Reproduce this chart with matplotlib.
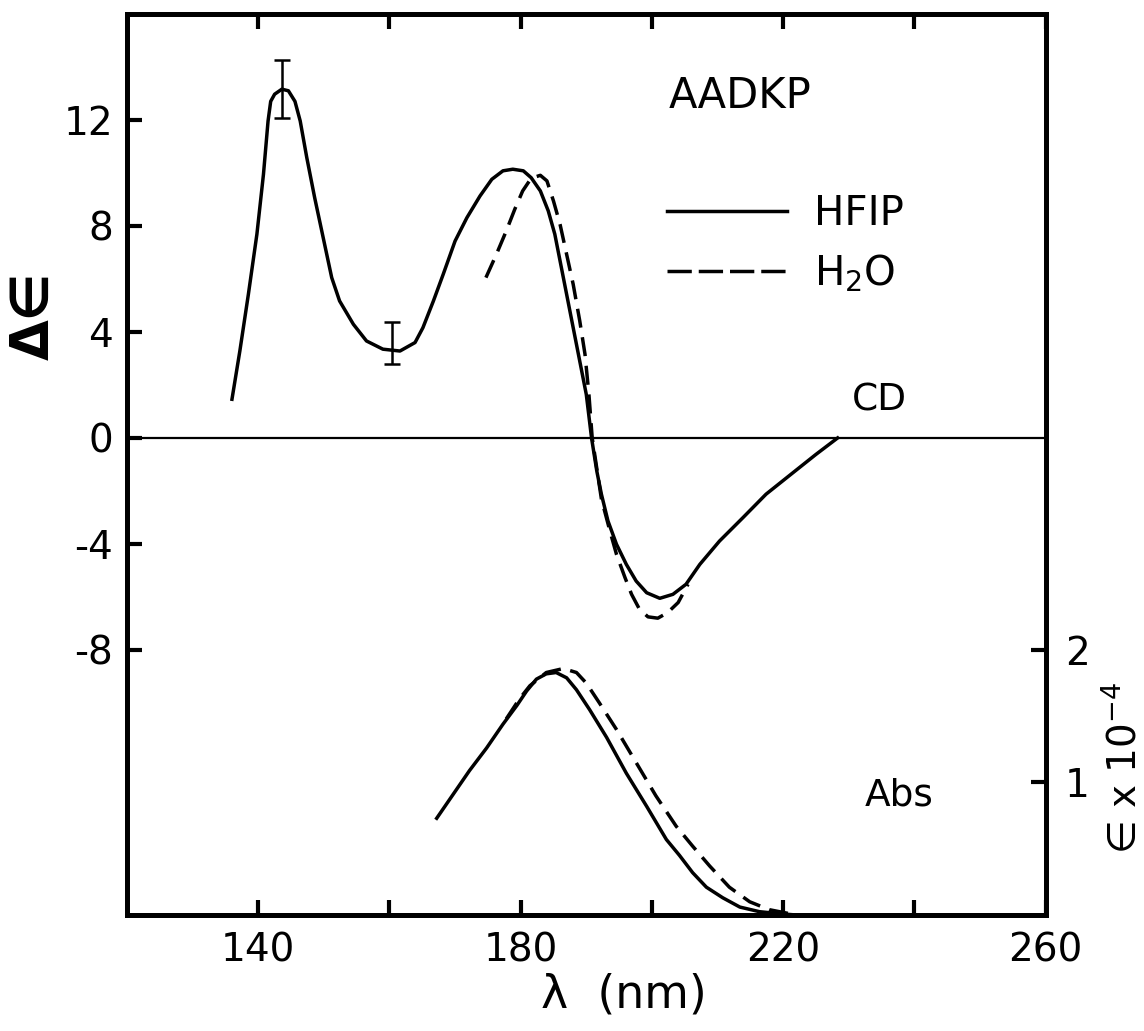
import numpy as np
import matplotlib.pyplot as plt
from matplotlib.lines import Line2D
from matplotlib.ticker import FixedLocator

plt.rcParams["font.family"] = ["DejaVu Sans"]

# CD spectrum, HFIP (solid)
cd_hfip_nm = [136.0, 137.2, 138.5, 139.8, 140.8, 141.5, 141.9, 142.5, 143.6, 144.6,
              145.6, 146.4, 147.4, 148.6, 149.9, 151.2, 152.4, 154.5, 156.5, 159.0,
              161.6, 163.9, 165.1, 166.7, 168.2, 170.0, 171.8, 173.8, 175.6, 177.3,
              178.8, 180.4, 181.6, 183.0, 184.2, 185.2, 186.2, 187.2, 188.2, 189.2,
              190.0, 190.8, 191.6, 192.3, 193.3, 194.6, 196.1, 197.6, 199.2, 201.2,
              203.2, 205.2, 207.3, 210.3, 213.9, 217.4, 221.5, 225.0, 228.3]
cd_hfip = [1.46, 3.28, 5.42, 7.69, 9.95, 11.96, 12.7, 12.97, 13.16, 13.1,
           12.7, 11.96, 10.58, 9.07, 7.56, 6.05, 5.17, 4.29, 3.66, 3.35,
           3.28, 3.6, 4.16, 5.17, 6.18, 7.43, 8.31, 9.13, 9.76, 10.08,
           10.14, 10.08, 9.82, 9.32, 8.57, 7.69, 6.43, 5.17, 3.91, 2.65,
           1.64, 0.0, -1.25, -2.12, -3.13, -4.01, -4.77, -5.4, -5.84, -6.05,
           -5.9, -5.52, -4.77, -3.89, -3.0, -2.12, -1.31, -0.62, 0.0]

# CD spectrum, H2O (dashed)
cd_h2o_nm = [174.7, 176.3, 177.8, 179.1, 180.3, 181.6, 183.0, 184.0, 185.0, 186.0,
             187.0, 188.0, 189.0, 189.8, 190.4, 190.9, 192.3, 193.6, 194.6, 195.9,
             196.9, 198.1, 199.4, 200.9, 202.4, 204.0, 205.5]
cd_h2o = [6.05, 6.93, 7.81, 8.63, 9.32, 9.8, 9.91, 9.7, 8.94, 8.06,
          6.93, 5.8, 4.42, 3.16, 1.64, 0.0, -2.3, -3.51, -4.39, -5.27,
          -5.9, -6.46, -6.75, -6.8, -6.59, -6.21, -5.52]

# absorption, epsilon x 10^-4
abs_hfip_nm = [167.2, 169.7, 172.2, 174.8, 177.3, 179.4, 180.9, 182.4, 183.9, 185.4,
               187.0, 188.5, 190.5, 193.1, 196.1, 199.2, 202.2, 204.2, 206.2, 208.3,
               210.8, 213.4, 216.4, 219.5, 222.0]
abs_hfip = [0.73, 0.91, 1.09, 1.26, 1.44, 1.58, 1.69, 1.78, 1.82, 1.83,
            1.79, 1.70, 1.55, 1.34, 1.07, 0.82, 0.57, 0.45, 0.32, 0.21,
            0.13, 0.06, 0.025, 0.01, 0.0]
abs_h2o_nm = [177.8, 179.8, 181.4, 183.9, 186.5, 188.5, 190.0, 192.0, 194.6, 197.6,
              200.6, 203.7, 206.2, 208.8, 211.8, 214.9, 217.9, 221.0, 222.5]
abs_h2o = [1.48, 1.63, 1.73, 1.83, 1.86, 1.83, 1.75, 1.60, 1.40, 1.15,
           0.90, 0.67, 0.52, 0.37, 0.21, 0.10, 0.04, 0.01, 0.0]

# error bars on the HFIP curve
err_nm = [143.6, 160.4]
err_val = [13.17, 3.28]
err_lo = [1.1, 0.5]
err_hi = [1.1, 1.1]

LW = 2.5
DASH = (5.5, 2.8)

fig = plt.figure(figsize=(11.44, 10.31), dpi=100)
ax = fig.add_axes([0.111, 0.1125, 0.803, 0.874])

ax.axhline(0, color="black", lw=1.6)
ax.plot(cd_hfip_nm, cd_hfip, color="black", lw=LW, solid_joinstyle="round")
ax.plot(cd_h2o_nm, cd_h2o, color="black", lw=LW, dashes=DASH)
ax.errorbar(err_nm, err_val, yerr=[err_lo, err_hi], fmt="none", ecolor="black",
            elinewidth=1.8, capsize=6, capthick=1.8)

ax.set_xlim(120, 260)
ax.set_ylim(-18, 16)
ax.xaxis.set_major_locator(FixedLocator([140, 180, 220, 260]))
ax.xaxis.set_minor_locator(FixedLocator([160, 200, 240]))
ax.yaxis.set_major_locator(FixedLocator([12, 8, 4, 0, -4, -8]))
ax.set_yticklabels(["12", "8", "4", "0", "-4", "-8"])
ax.tick_params(axis="both", which="both", direction="in", length=11, width=3,
               labelsize=28, top=True, pad=10)
ax.tick_params(axis="x", which="major", pad=12)
for s in ax.spines.values():
    s.set_linewidth(3.5)

ax2 = ax.twinx()
ax2.plot(abs_hfip_nm, abs_hfip, color="black", lw=LW, solid_joinstyle="round")
ax2.plot(abs_h2o_nm, abs_h2o, color="black", lw=LW, dashes=DASH)
ax2.set_ylim(0, 6.8)
ax2.yaxis.set_major_locator(FixedLocator([1, 2]))
ax2.tick_params(axis="y", direction="in", length=11, width=3, labelsize=28, pad=14)
for s in ax2.spines.values():
    s.set_linewidth(3.5)

ax.set_xlabel("λ  (nm)", fontsize=33)
ax.xaxis.set_label_coords(0.541, -0.064)
ax.text(-0.102, 0.665, "Δ∈", transform=ax.transAxes, rotation=90, fontsize=38,
        fontweight="bold", ha="center", va="center")
ax.text(1.085, 0.163, "∈ x 10$^{-4}$", transform=ax.transAxes, rotation=90,
        fontsize=28, ha="center", va="center")

ax.text(202.5, 12.9, "AADKP", fontsize=30, ha="left", va="center")
ax.text(230.5, 1.4, "CD", fontsize=27, ha="left", va="center")
ax.text(232.5, -13.5, "Abs", fontsize=27, ha="left", va="center")

handles = [Line2D([], [], color="black", lw=LW),
           Line2D([], [], color="black", lw=LW, dashes=(7, 2))]
ax.legend(handles, ["HFIP", "H$_2$O"], loc="upper left",
          bbox_to_anchor=(0.548, 0.84), frameon=False, fontsize=29,
          handlelength=3.0, handletextpad=0.65, labelspacing=0.45)

fig.savefig("out.png", dpi=100)
